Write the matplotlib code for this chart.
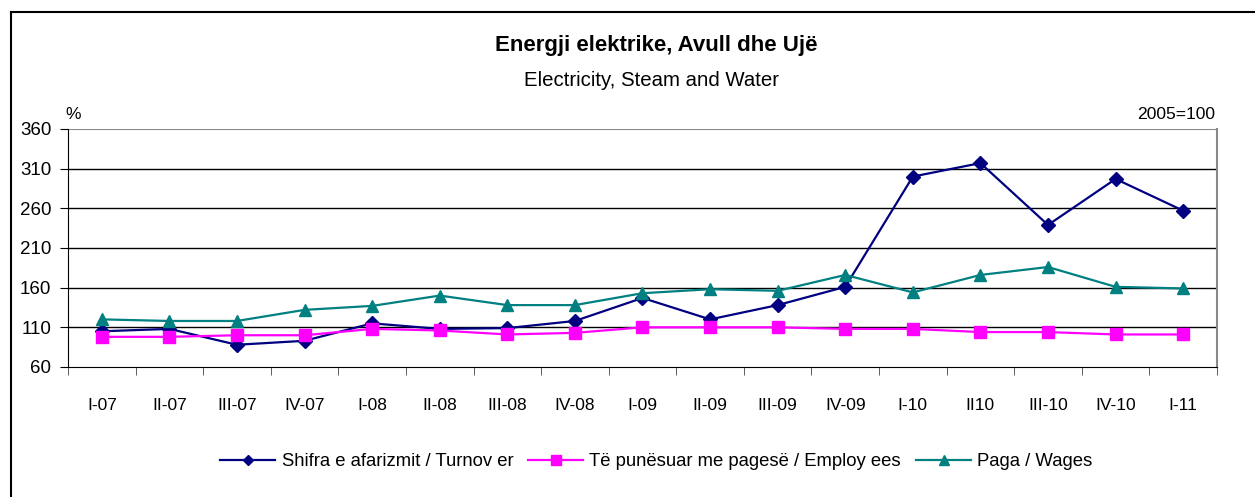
import numpy as np
import matplotlib.pyplot as plt
from matplotlib.lines import Line2D

plt.rcParams['font.family'] = ['Liberation Sans', 'DejaVu Sans']

# === DATA ===
quarters = ["I-07", "II-07", "III-07", "IV-07", "I-08", "II-08", "III-08", "IV-08",
            "I-09", "II-09", "III-09", "IV-09", "I-10", "II10", "III-10", "IV-10", "I-11"]
turnover = [105, 108, 88, 93, 115, 108, 109, 118, 147, 120, 138, 161, 300, 317, 239, 297, 257]
employees = [98, 98, 100, 100, 108, 106, 101, 103, 110, 110, 110, 108, 108, 104, 104, 101, 101]
wages = [120, 118, 118, 132, 137, 150, 138, 138, 153, 158, 156, 176, 154, 176, 186, 161, 159]
yticks = [60, 110, 160, 210, 260, 310, 360]

# === PLOT ===
fig = plt.figure(figsize=(12.55, 4.97), dpi=100)
ax = fig.add_axes([0.0542, 0.2616, 0.9155, 0.4789])

x = np.arange(len(quarters))
ax.plot(x, turnover, color="#000080", lw=1.6, marker="D", ms=7,
        label="Shifra e afarizmit / Turnov er")
ax.plot(x, employees, color="#FF00FF", lw=1.6, marker="s", ms=9,
        label="Të punësuar me pagesë / Employ ees")
ax.plot(x, wages, color="#008080", lw=1.6, marker="^", ms=9,
        label="Paga / Wages")

ax.set_xlim(-0.5, len(quarters) - 0.5)
ax.set_ylim(60, 360)
ax.set_yticks(yticks)
ax.set_yticklabels([str(v) for v in yticks], fontsize=13.5)
for v in yticks[1:-1]:
    ax.axhline(v, color="black", lw=1, zorder=0)
ax.axhline(360, color="#888888", lw=1.5, zorder=0)

ax.set_xticks(x)
ax.set_xticklabels(quarters, fontsize=12.5)
ax.tick_params(axis="x", length=0, pad=22)
ax.set_xticks(np.arange(-0.5, len(quarters)), minor=True)
ax.tick_params(axis="x", which="minor", length=6, direction="out", color="#444444")
ax.tick_params(axis="y", length=6, pad=6, direction="out")

ax.spines["top"].set_visible(False)
ax.spines["right"].set_color("#888888")
ax.spines["right"].set_linewidth(1.5)
ax.spines["left"].set_color("black")
ax.spines["bottom"].set_color("black")

fig.text(0.523, 0.909, "Energji elektrike, Avull dhe Ujë", ha="center", va="center",
         fontsize=16, fontweight="bold")
fig.text(0.519, 0.839, "Electricity, Steam and Water", ha="center", va="center", fontsize=14.7)
fig.text(0.052, 0.77, "%", ha="left", va="center", fontsize=12.5)
fig.text(0.968, 0.77, "2005=100", ha="right", va="center", fontsize=12.6)

ax.legend(loc="center", bbox_to_anchor=(0.512, -0.399), ncol=3, frameon=False,
          fontsize=13.3, handlelength=3.0, columnspacing=0.8, handletextpad=0.33,
          markerscale=0.8)

# outer frame: only top and left edges show
fig.add_artist(Line2D([0.009, 1.0], [0.976, 0.976], transform=fig.transFigure,
                      color="black", lw=1.5))
fig.add_artist(Line2D([0.009, 0.009], [0.0, 0.976], transform=fig.transFigure,
                      color="black", lw=1.5))

fig.savefig("out.png", dpi=100)
